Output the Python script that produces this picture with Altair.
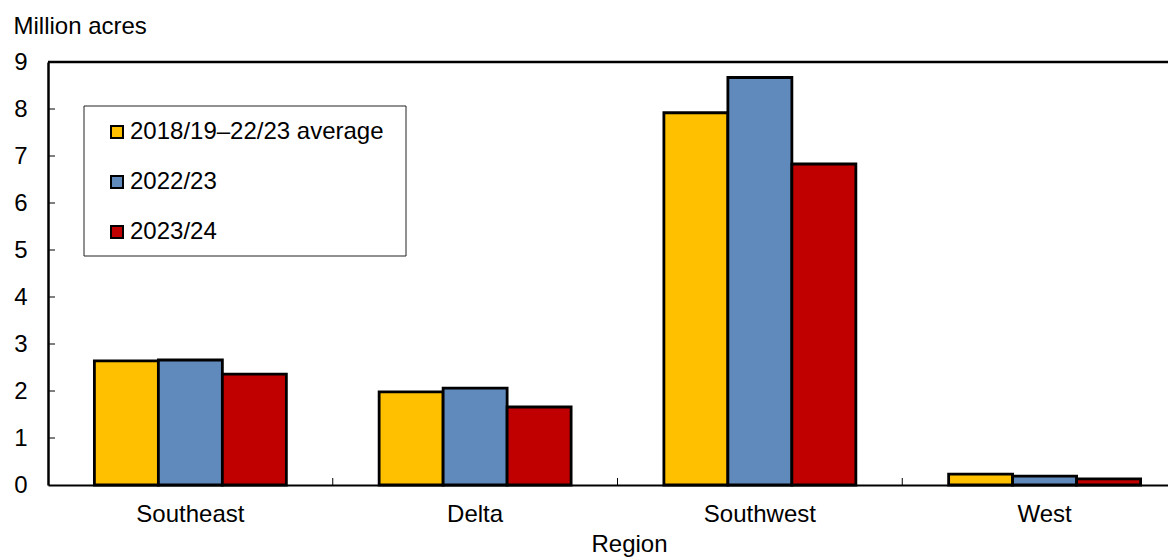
import altair as alt
import pandas as pd

regions = ["Southeast", "Delta", "Southwest", "West"]
series = ["2018/19\u201322/23 average", "2022/23", "2023/24"]
avg_1819_2223 = [2.64, 1.98, 7.92, 0.23]
val_2223 = [2.66, 2.06, 8.67, 0.19]
val_2324 = [2.36, 1.66, 6.83, 0.13]
colors = ["#FFC000", "#6089BC", "#C00000"]
y_ticks = [1, 2, 3, 4, 5, 6, 7, 8]
x_boundaries = ["Delta", "Southwest", "West"]

rows = []
for s, vals in zip(series, [avg_1819_2223, val_2223, val_2324]):
    for r, v in zip(regions, vals):
        rows.append({"Region": r, "Series": s, "Value": v})
df = pd.DataFrame(rows)

W = 1120
H = 423
FONT = "Liberation Sans"
FS = 24

xscale = alt.Scale(domain=regions, range=[0, 1139], paddingInner=0, paddingOuter=0)
yscale = alt.Scale(domain=[0, 9], nice=False)

bars = alt.Chart(df).mark_bar(stroke="black", strokeWidth=2.8).encode(
    x=alt.X("Region:N", sort=regions, scale=xscale,
            axis=alt.Axis(title="Region", labelAngle=0, labelFontSize=FS, labelPadding=17,
                          tickSize=0, domainColor="black", domainWidth=2,
                          titleFontSize=FS, titleFontWeight="normal", titleX=581, titleY=66,
                          titleAlign="center", titleBaseline="alphabetic",
                          labelColor="black", titleColor="black")),
    xOffset=alt.XOffset("Series:N", sort=series,
                        scale=alt.Scale(paddingInner=0, paddingOuter=0.725)),
    y=alt.Y("Value:Q", scale=yscale,
            axis=alt.Axis(title="Million acres", values=list(range(10)), grid=False,
                          tickSize=0, labelPadding=21, labelFontSize=FS,
                          domainColor="black", domainWidth=2.5,
                          titleAngle=0, titleX=-35, titleY=-29, titleAlign="left",
                          titleBaseline="alphabetic", titleFontSize=FS,
                          titleFontWeight="normal", labelColor="black", titleColor="black")),
    color=alt.Color("Series:N", sort=series,
                    scale=alt.Scale(domain=series, range=colors),
                    legend=alt.Legend(title=None, orient="none", legendX=57, legendY=58,
                                      labelFontSize=FS, symbolType="square", symbolSize=144,
                                      symbolStrokeColor="black", symbolStrokeWidth=2,
                                      rowPadding=26, labelOffset=1, padding=0,
                                      labelLimit=500, labelColor="black")),
)

legend_box = alt.Chart(pd.DataFrame({"a": [0]})).mark_rect(
    fill="white", stroke="#222222", strokeWidth=1
).encode(x=alt.value(36), x2=alt.value(358), y=alt.value(44), y2=alt.value(194))

ytick_rules = alt.Chart(pd.DataFrame({"v": y_ticks})).mark_rule(
    color="black", strokeWidth=1
).encode(y=alt.Y("v:Q", scale=yscale), x=alt.value(0), x2=alt.value(7))

xtick_rules = alt.Chart(pd.DataFrame({"Region": x_boundaries})).mark_rule(
    color="black", strokeWidth=1
).encode(x=alt.X("Region:N", sort=regions, scale=xscale, bandPosition=0),
         y=alt.value(H), y2=alt.value(H - 7))

top_line = alt.Chart(pd.DataFrame({"a": [0]})).mark_rule(
    color="black", strokeWidth=2.5
).encode(y=alt.datum(9, scale=yscale), x=alt.value(0), x2=alt.value(W))

chart = alt.layer(legend_box, bars, ytick_rules, xtick_rules, top_line).properties(
    width=W, height=H,
    autosize=alt.AutoSizeParams(type="none"),
    padding={"left": 40, "top": 54, "right": 0, "bottom": 74},
).configure_view(stroke=None).configure(font=FONT)

chart.save("out.html", embed_options={"renderer": "svg", "actions": False})
